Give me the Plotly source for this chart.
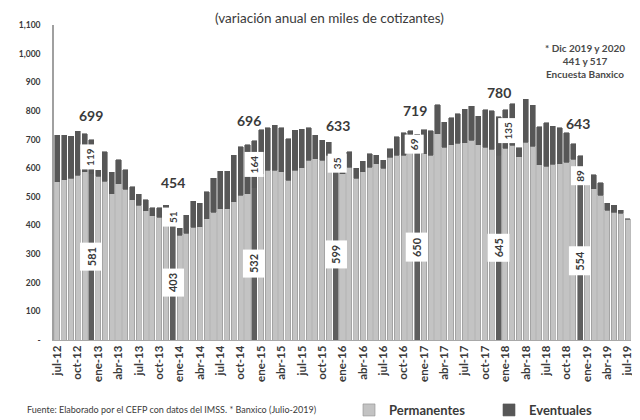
import plotly.graph_objects as go

months = [
    "jul-12", "ago-12", "sep-12", "oct-12", "nov-12", "dic-12",
    "ene-13", "feb-13", "mar-13", "abr-13", "may-13", "jun-13", "jul-13", "ago-13", "sep-13", "oct-13", "nov-13", "dic-13",
    "ene-14", "feb-14", "mar-14", "abr-14", "may-14", "jun-14", "jul-14", "ago-14", "sep-14", "oct-14", "nov-14", "dic-14",
    "ene-15", "feb-15", "mar-15", "abr-15", "may-15", "jun-15", "jul-15", "ago-15", "sep-15", "oct-15", "nov-15", "dic-15",
    "ene-16", "feb-16", "mar-16", "abr-16", "may-16", "jun-16", "jul-16", "ago-16", "sep-16", "oct-16", "nov-16", "dic-16",
    "ene-17", "feb-17", "mar-17", "abr-17", "may-17", "jun-17", "jul-17", "ago-17", "sep-17", "oct-17", "nov-17", "dic-17",
    "ene-18", "feb-18", "mar-18", "abr-18", "may-18", "jun-18", "jul-18", "ago-18", "sep-18", "oct-18", "nov-18", "dic-18",
    "ene-19", "feb-19", "mar-19", "abr-19", "may-19", "jun-19", "jul-19",
]

permanentes = [
    552, 560, 564, 575, 587, 581,
    572, 555, 510, 546, 527, 490, 471, 452, 434, 428, 425, 403,
    366, 373, 394, 395, 424, 447, 459, 459, 482, 506, 511, 532,
    581, 593, 593, 587, 558, 593, 602, 628, 633, 628, 645, 599,
    580, 604, 564, 587, 604, 616, 599, 639, 645, 645, 660, 650,
    650, 645, 720, 673, 682, 687, 688, 697, 681, 673, 667, 645,
    670, 680, 640, 691, 676, 612, 607, 614, 615, 620, 632, 554,
    545, 529, 506, 453, 447, 442, 421,
]

eventuales = [
    163, 155, 148, 154, 133, 119,
    20, 103, 75, 84, 68, 45, 38, 38, 28, 33, 46, 51,
    24, 63, 91, 82, 93, 118, 130, 130, 163, 168, 171, 164,
    154, 148, 157, 154, 145, 139, 134, 113, 82, 69, 46, 35,
    30, 53, 35, 37, 47, 29, 29, 29, 64, 78, 70, 69,
    85, 85, 102, 87, 94, 103, 117, 119, 100, 131, 133, 135,
    134, 145, 32, 149, 143, 132, 151, 132, 127, 103, 54, 89,
    50, 48, 44, 24, 24, 11, 3,
]

dic_months = ["dic-12", "dic-13", "dic-14", "dic-15", "dic-16", "dic-17", "dic-18"]
dic_totales = [699, 454, 696, 633, 719, 780, 643]

tick_months = months[::3]

# styles
C_PERM = "#c3c3c3"
C_PERM_LINE = "#8e8e8e"
C_EVENT = "#575757"
C_DIC = "#5e5e5e"
TXT = "#3a3a3a"
FONT = "Lato"

# the page body has an 8px margin; size the figure so it fits the window
OFF = 8
W, H = 640 - OFF, 420 - OFF

perm_colors = [C_DIC if m in dic_months else C_PERM for m in months]
perm_lines = [C_DIC if m in dic_months else C_PERM_LINE for m in months]

fig = go.Figure()
fig.add_trace(go.Bar(
    x=months, y=permanentes, name="Permanentes",
    marker=dict(color=perm_colors, line=dict(color=perm_lines, width=0.6)),
))
fig.add_trace(go.Bar(
    x=months, y=eventuales, name="Eventuales",
    marker=dict(color=C_EVENT, line=dict(color=C_EVENT, width=0.6)),
))

# label offsets (pixels) for the December annotations
total_yshift = [14, 17, 10, 23, 13, 14, 22]
total_xshift = [0, 0, -5, 2, -2, 0, -2]
ev_xshift = [-2, 0, 0, 2, -3, 9, 0]
ev_yshift = [0, 0, 0, 0, 0, 5, -7]

annotations = []
for k, m in enumerate(dic_months):
    i = months.index(m)
    p = permanentes[i]
    e = eventuales[i]
    annotations.append(dict(
        x=m, y=p / 2, xref="x", yref="y", text=f"<b>{p}</b>", showarrow=False,
        textangle=-90, bgcolor="white", borderpad=4,
        font=dict(family=FONT, size=11, color=TXT),
    ))
    annotations.append(dict(
        x=m, y=p + e / 2, xref="x", yref="y", text=f"<b>{e}</b>", showarrow=False,
        textangle=-90, bgcolor="white", borderpad=3,
        xshift=ev_xshift[k], yshift=ev_yshift[k],
        font=dict(family=FONT, size=10, color=TXT),
    ))
    annotations.append(dict(
        x=m, y=dic_totales[k], xref="x", yref="y", text=f"<b>{dic_totales[k]}</b>",
        showarrow=False, yanchor="bottom", yshift=total_yshift[k], xshift=total_xshift[k],
        font=dict(family=FONT, size=14, color=TXT),
    ))

annotations.append(dict(
    xref="paper", yref="paper", x=0.92, y=0.952, xanchor="center", yanchor="top",
    text="<b>* Dic 2019 y 2020</b><br><b>441 y 517</b><br><b>Encuesta Banxico</b>",
    showarrow=False, align="center",
    font=dict(family=FONT, size=10, color="#4a4a4a"),
))
annotations.append(dict(
    xref="paper", yref="paper", x=-0.05, y=-0.222, xanchor="left", yanchor="middle",
    text="Fuente: Elaborado por el CEFP con datos del IMSS. * Banxico (Julio-2019)",
    showarrow=False, font=dict(family=FONT, size=9, color=TXT),
))
# chart title (kept as an annotation so it sits fully inside the figure)
annotations.append(dict(
    xref="paper", yref="paper", x=(330 - 54) / 579, y=1.0, xanchor="center", yanchor="middle",
    yshift=7, text="(variación anual en miles de cotizantes)", showarrow=False,
    font=dict(family=FONT, size=13.5, color=TXT),
))

yt = [0, 100, 200, 300, 400, 500, 600, 700, 800, 900, 1000, 1100]
ytext = ["-", "100", "200", "300", "400", "500", "600", "700", "800", "900", "1,000", "1,100"]

fig.update_layout(
    width=W, height=H,
    barmode="stack", bargap=0.25,
    plot_bgcolor="white", paper_bgcolor="white",
    margin=dict(l=54 - OFF, r=9, t=25 - OFF, b=80, autoexpand=False),
    xaxis=dict(
        type="category", categoryorder="array", categoryarray=months,
        tickmode="array", tickvals=tick_months, ticktext=tick_months,
        tickangle=-90, tickfont=dict(family=FONT, size=11.5, color=TXT, weight="bold"),
        showline=True, linecolor="#a8a8a8", linewidth=1, showgrid=False, ticks="",
        automargin=False,
    ),
    yaxis=dict(
        range=[0, 1100], tickmode="array", tickvals=yt, ticktext=ytext,
        tickfont=dict(family=FONT, size=8.5, color=TXT, weight="bold"),
        showline=True, linecolor="#a0a0a0", linewidth=1.5, showgrid=False,
        zeroline=False, ticks="", ticklabelstandoff=10, automargin=False,
    ),
    legend=dict(
        orientation="h", xref="container", yref="container",
        x=(349 - OFF) / W, y=1 - (410 - OFF) / H, xanchor="left", yanchor="middle",
        font=dict(family=FONT, size=13, color=TXT, weight="bold"),
        traceorder="normal", entrywidth=95, entrywidthmode="pixels",
        itemwidth=30,
    ),
    annotations=annotations,
    font=dict(family=FONT),
)

fig.write_html("out.html")
